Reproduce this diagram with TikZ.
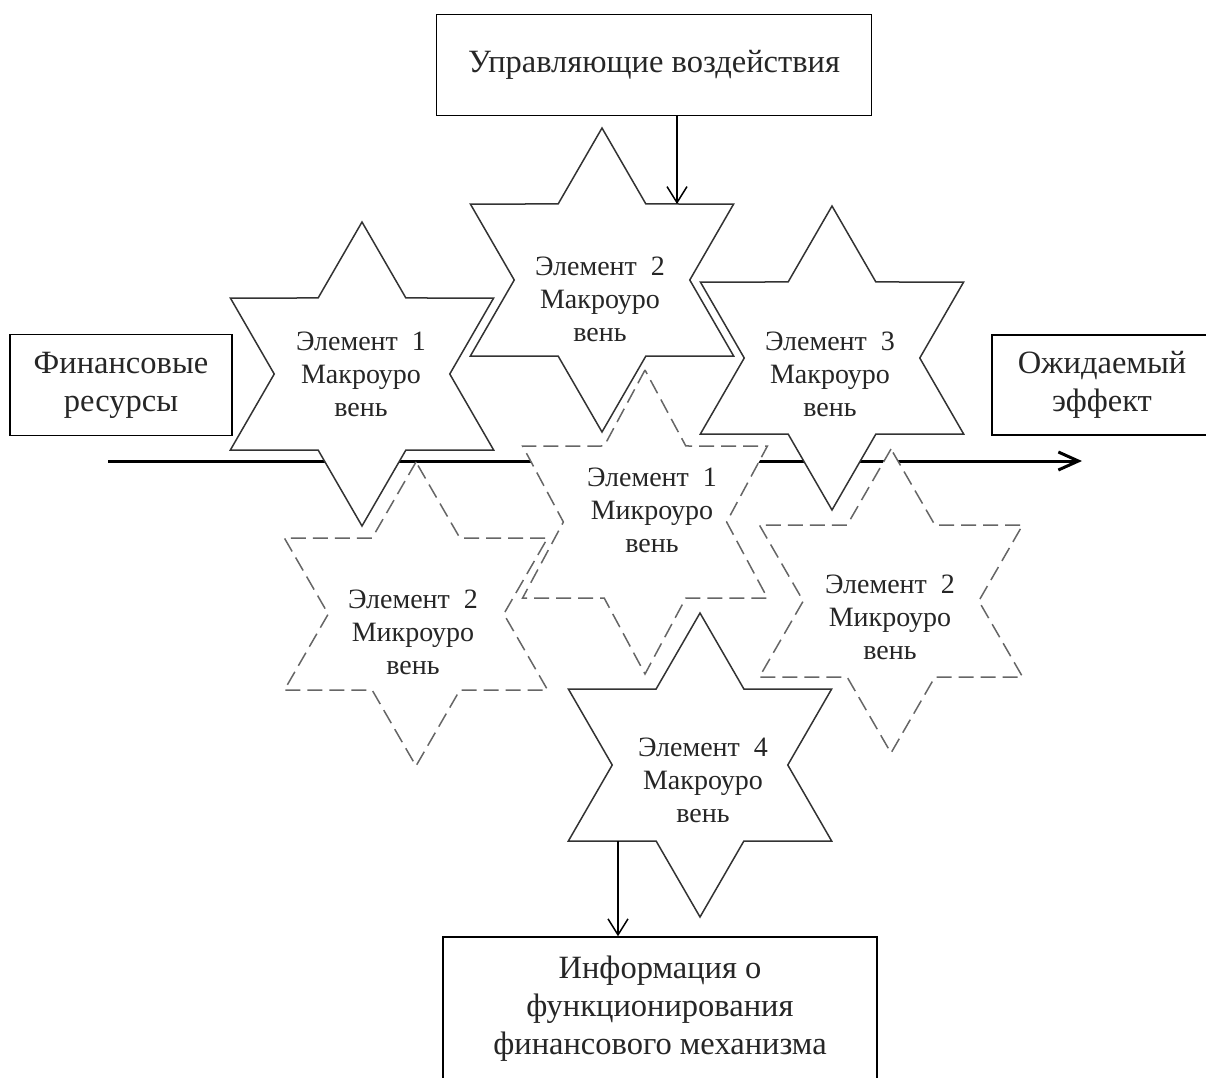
\documentclass[tikz,border=0pt]{standalone}
\usepackage{fontspec}
\setmainfont{Liberation Serif}
\usepackage{tikz}
\usetikzlibrary{shapes.geometric}
\usetikzlibrary{arrows.meta}
\tikzstyle{hex}=[star, star points=6, star point ratio=1.732, minimum size=304pt, inner sep=0pt, outer sep=0pt, fill=white, line width=1.5pt]
\tikzstyle{macro}=[hex, draw=black!80]
\tikzstyle{micro}=[hex, draw=black!60, dash pattern=on 15pt off 7pt]
\tikzstyle{elt}=[align=center, font=\fontsize{28}{33}\selectfont, text=black!85]
\tikzstyle{box}=[draw, line width=1.5pt, align=center, font=\fontsize{32.5}{38}\selectfont, text=black!85, inner sep=0pt]
\tikzstyle{arr}=[line width=1.5pt, -{Straight Barb[length=16pt,width=20pt]}]

\begin{document}
\begin{tikzpicture}[x=1pt,y=-1pt]
\useasboundingbox (0,0) rectangle (1206,1077);
\clip (0,0) rectangle (1206,1077);
\coordinate (flowin) at (108,461);
\coordinate (flowout) at (1082,461);
\draw[line width=3pt, -{Straight Barb[length=20pt,width=18pt]}] (flowin) -- (flowout);
\node[micro] (m2a) at (416,614) {};
\begin{scope}[shift={(645,522)},xscale=0.93]
\node[micro, transform shape] (m1) at (0,0) {};
\end{scope}
\node[micro] (m2b) at (891,601) {};
\foreach \n/\x/\y in {s1/362/374,s2/602/280,s3/832/358,s4/700/765} {
	\node[macro] (\n) at (\x,\y) {};
}
\node[elt] (e1) at (361,374) {Элемент\enspace 1\\Макроуро\\вень};
\node[elt] (e2) at (600,299) {Элемент\enspace 2\\Макроуро\\вень};
\node[elt] (e3) at (830,374) {Элемент\enspace 3\\Макроуро\\вень};
\node[elt] (e4) at (703,780) {Элемент\enspace 4\\Макроуро\\вень};
\node[elt] (u2a) at (413,632) {Элемент\enspace 2\\Микроуро\\вень};
\node[elt] (u1) at (652,510) {Элемент\enspace 1\\Микроуро\\вень};
\node[elt] (u2b) at (890,617) {Элемент\enspace 2\\Микроуро\\вень};
\node[box, minimum width=435pt, minimum height=101pt] (ctrl) at (654,65) {Управляющие воздействия};
\node[box, minimum width=222pt, minimum height=101pt] (res) at (121,385) {Финансовые\\ресурсы};
\node[box, minimum width=220pt, minimum height=100pt] (eff) at (1102,385) {Ожидаемый\\эффект};
\node[box, minimum width=434pt, minimum height=144pt] (info) at (660,1009) {Информация о\\функционирования\\финансового механизма};
\coordinate (cin) at ([xshift=23pt]ctrl.south);
\draw[arr] (cin) -- (cin |- s2.outer point 6);
\coordinate (iout) at ([xshift=-42pt]info.north);
\draw[arr] (iout |- s4.outer point 3) -- (iout);
\end{tikzpicture}
\end{document}
